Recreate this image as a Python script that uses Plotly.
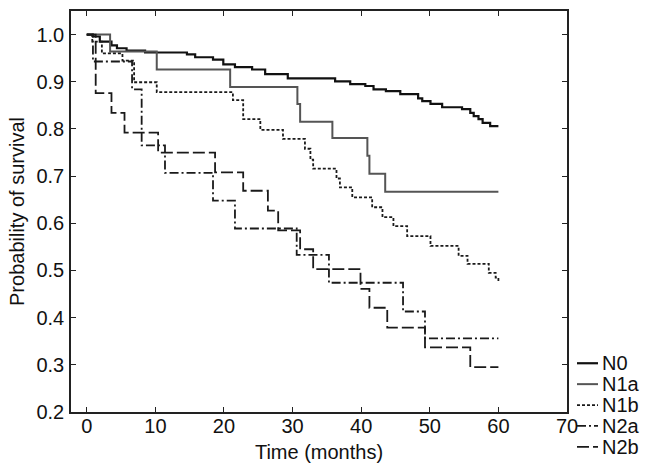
import plotly.graph_objects as go

# ---- data ----
n0_t = [0, 0.9, 1.9, 3.6, 4.4, 5.8, 8.5, 14.6, 15.8, 18.4, 19.9, 21.6, 24.1, 26.0, 29.3,
        36.2, 38.4, 40.6, 41.8, 43.6, 45.7, 48.3, 48.9, 50.1, 51.8, 54.7, 55.9, 56.4,
        57.1, 57.7, 58.8, 60]
n0_s = [1.0, 0.996, 0.985, 0.977, 0.971, 0.966, 0.962, 0.958, 0.952, 0.947, 0.937, 0.931,
        0.926, 0.916, 0.907, 0.901, 0.895, 0.891, 0.884, 0.880, 0.874, 0.865, 0.859, 0.853,
        0.846, 0.842, 0.834, 0.827, 0.821, 0.813, 0.806, 0.806]

n1a_t = [0, 3.4, 10.2, 20.9, 30.7, 31.1, 35.8, 40.9, 41.2, 43.5, 60]
n1a_s = [1.0, 0.964, 0.926, 0.889, 0.853, 0.815, 0.781, 0.743, 0.705, 0.667, 0.667]

n1b_t = [0, 0.8, 2.2, 5.2, 6.9, 10.2, 21.3, 22.8, 25.3, 28.6, 31.8, 32.6, 33.0, 36.4,
         36.9, 38.7, 41.6, 43.1, 44.7, 46.7, 50.1, 54.2, 55.5, 58.6, 59.6, 60]
n1b_s = [1.0, 0.985, 0.96, 0.945, 0.899, 0.878, 0.861, 0.821, 0.798, 0.779, 0.758, 0.735,
         0.716, 0.695, 0.676, 0.655, 0.634, 0.613, 0.594, 0.573, 0.552, 0.531, 0.514,
         0.495, 0.485, 0.474]

n2a_t = [0, 0.9, 6.6, 8.0, 11.4, 18.4, 21.6, 30.6, 35.3, 46.1, 49.3, 60]
n2a_s = [1.0, 0.943, 0.884, 0.765, 0.707, 0.648, 0.589, 0.533, 0.474, 0.413, 0.356, 0.356]

n2b_t = [0, 1.3, 3.6, 5.5, 10.4, 18.7, 22.8, 26.4, 27.9, 31.1, 33.0, 39.9, 41.2, 43.8,
         49.3, 55.9, 60]
n2b_s = [1.0, 0.876, 0.834, 0.792, 0.75, 0.708, 0.669, 0.627, 0.585, 0.545, 0.503, 0.461,
         0.421, 0.379, 0.337, 0.295, 0.295]

x_ticks = [0, 10, 20, 30, 40, 50, 60, 70]
y_ticks = [0.2, 0.3, 0.4, 0.5, 0.6, 0.7, 0.8, 0.9, 1.0]

series_names = ["N0", "N1a", "N1b", "N2a", "N2b"]
series_t = [n0_t, n1a_t, n1b_t, n2a_t, n2b_t]
series_s = [n0_s, n1a_s, n1b_s, n2a_s, n2b_s]
series_lines = [
    dict(color="#111111", width=2.2, dash="solid"),
    dict(color="#555555", width=2.0, dash="solid"),
    dict(color="#1a1a1a", width=1.8, dash="3px,2px"),
    dict(color="#1a1a1a", width=1.8, dash="9px,3px,2px,3px"),
    dict(color="#1a1a1a", width=1.8, dash="12px,4px"),
]

fig = go.Figure()
for name, t, s, ln in zip(series_names, series_t, series_s, series_lines):
    fig.add_trace(go.Scatter(x=t, y=s, mode="lines", name=name, showlegend=False,
                             line=dict(shape="hv", **ln)))

font = "Liberation Sans, Arial, Helvetica, sans-serif"
FS = 20
axis_common = dict(showline=True, linecolor="#222222", linewidth=1.6, mirror="ticks",
                   ticks="inside", ticklen=5, tickcolor="#222222", tickwidth=1.2,
                   showgrid=False, zeroline=False,
                   tickfont=dict(family=font, size=FS, color="#111111"))

# plot area in pixels: x 71..567, y 9..412
L, R, T, B = 71, 79, 9, 59
W, H = 646, 471
pw, ph = W - L - R, H - T - B

# legend (drawn beside the plot, like the original figure)
legend_rows_px = [363, 384, 405, 426, 447]
shapes, annotations = [], []
for name, ln, py in zip(series_names, series_lines, legend_rows_px):
    yp = (H - B - py) / ph
    shapes.append(dict(type="line", xref="paper", yref="paper",
                       x0=(577 - L) / pw, x1=(598 - L) / pw, y0=yp, y1=yp,
                       line=dict(color=ln["color"], width=ln["width"], dash=ln["dash"])))
    annotations.append(dict(text=name, xref="paper", yref="paper",
                            x=(600 - L) / pw, y=yp, xanchor="left", yanchor="middle",
                            showarrow=False,
                            font=dict(family=font, size=FS, color="#111111")))

fig.update_layout(
    width=W, height=H,
    margin=dict(l=L, r=R, t=T, b=B),
    paper_bgcolor="white", plot_bgcolor="white",
    font=dict(family=font, size=FS, color="#111111"),
    xaxis=dict(range=[-2.3, 70], tickvals=x_ticks, ticklabelstandoff=-5,
               title=dict(text="Time (months)", font=dict(size=FS), standoff=9),
               **axis_common),
    yaxis=dict(range=[0.2, 1.05], tickvals=y_ticks, tickformat=".1f", ticklabelstandoff=1,
               title=dict(text="Probability of survival", font=dict(size=FS), standoff=6),
               **axis_common),
    shapes=shapes,
    annotations=annotations,
    showlegend=False,
)

fig.write_html("out.html", config={"displayModeBar": False},
               post_script="document.body.style.margin='0';document.body.style.overflow='hidden';")
